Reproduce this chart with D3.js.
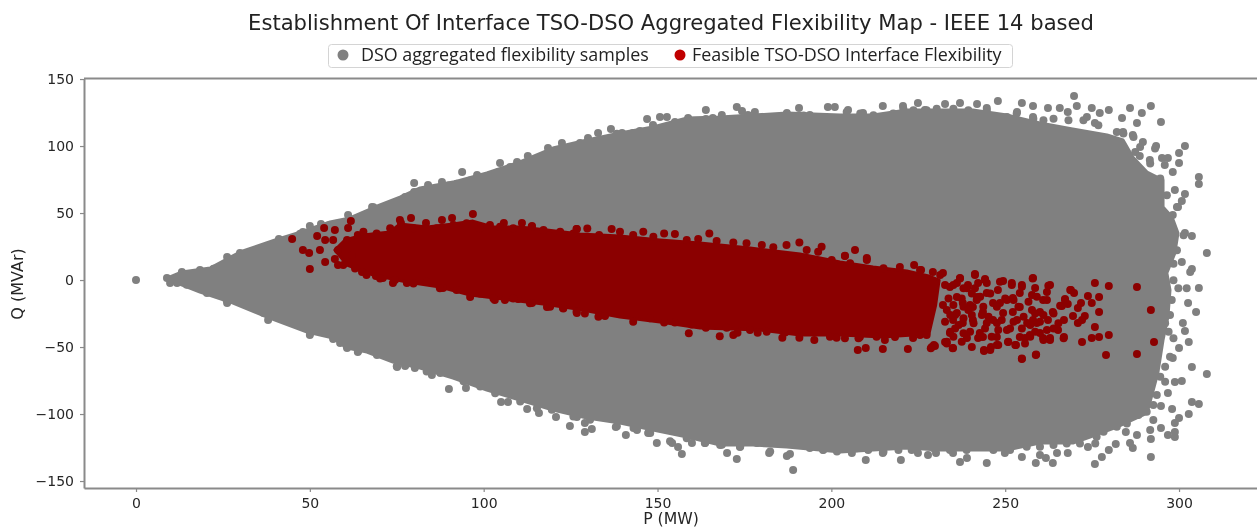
<!DOCTYPE html>
<html>
<head>
<meta charset="utf-8">
<script src="https://cdn.jsdelivr.net/npm/d3@7"></script>
<style>
html,body{margin:0;padding:0;background:#fff;overflow:hidden}
svg{display:block;filter:blur(0.4px)}
</style>
</head>
<body>
<div id="chart"></div>
<script>
const chartTitle = "Establishment Of Interface TSO-DSO Aggregated Flexibility Map - IEEE 14 based";
const seriesNames = ["DSO aggregated flexibility samples", "Feasible TSO-DSO Interface Flexibility"];
const xLabel = "P (MW)";
const yLabel = "Q (MVAr)";
const xTicks = [0, 50, 100, 150, 200, 250, 300];
const yTicks = [-150, -100, -50, 0, 50, 100, 150];

// Solid core of the grey sample cloud, [P, Q]
const greyCore = [[8.9,1.5],[13.2,6],[21.3,9],[29.9,20.9],[40,29.9],[47.2,35.8],[55.8,43.3],[61.5,46.3],[68.7,54.5],[75.9,61.9],[81.7,68.7],[91.2,73.1],[100.9,79.9],[110.4,88.1],[119.9,98.5],[129.7,104.5],[139.2,109.7],[148.7,114.2],[158.5,120.9],[168,121.6],[177.4,123.1],[187.2,124.6],[202.5,123.1],[212,123.1],[221.7,126.9],[231.2,126.9],[240.7,126.9],[250.5,123.1],[260,117.2],[269,113],[279.3,108.2],[283.9,104.5],[286.7,91.8],[290.8,80.6],[295.4,74.6],[295.4,54.5],[298,47],[299.7,35.1],[298.8,20.1],[296.5,5.2],[297.4,-7.5],[296.8,-27.6],[295.4,-44.8],[293.9,-69.4],[290.8,-99.3],[282.1,-109.7],[274.4,-117.2],[269.5,-121.6],[260,-121.6],[250.5,-126.9],[240.7,-126.9],[231.2,-126.9],[221.7,-125.4],[212,-126.9],[202.5,-128.4],[196.7,-126.9],[187.2,-124.6],[177.4,-123.1],[168,-123.1],[158.5,-117.2],[148.7,-111.9],[139.2,-106.7],[129.7,-103],[119.9,-97],[110.4,-89.6],[100.9,-82.1],[91.2,-73.1],[81.7,-65.7],[73.9,-61.2],[66.4,-53.7],[60.7,-50.7],[56.7,-43.3],[49.2,-38.8],[37.7,-27.6],[27.9,-17.2],[18.4,-9],[11.8,-2.2]];

// Individually visible grey samples outside the rim, [P, Q]
const greySamples = [[0,0],[9.8,-2.2],[11.8,-2.2],[8.9,1.5],[13.2,6],[18.4,7.5],[26.2,17.2],[29.9,20.1],[33.6,20.9],[41.1,30.6],[48,35.8],[50,40.3],[53.2,41.8],[61,48.5],[67.9,54.5],[77.4,61.9],[80,65.7],[80,72.4],
[84,70.9],[88,73.1],[93.8,80.6],[98.1,78.4],[104.7,87.3],[109.6,88.1],[112.7,92.5],[118.5,98.5],[122.5,102.2],[127.7,102.2],[130,106],[132.9,109.7],[136.6,112.7],[139.8,109.7],[142.9,109.7],[144.9,111.2],[147,120.2],[148.7,115.7],[150.7,121.6],[152.7,121.6],[155,117.9],[158.8,120.9],[163.9,126.9],[163.9,120.2],[165.9,120.9],[168.5,123.1],[172.8,129.1],[174.3,126.1],[178,125.4],[176,123.1],[181.8,121.6],[187.2,124.6],[190.7,128.4],[193.8,123.1],[199,129.1],[201,129.1],[204.8,126.9],[209.1,124.6],[214.8,129.9],[220.6,129.9],[224.9,132.1],[226.9,126.9],[232.7,131.3],[237,132.1],[241.9,131.3],[244.7,128.4],[247.9,133.6],[253.4,125.4],[254.8,132.1],[258,129.9],[258,121.6],[262.3,128.4],[265.7,128.4],[268,125.4],[269.8,137.3],[270.6,129.9],[273.5,121.6],[274.9,128.4],[275.8,117.2],[277.2,124.6],[279.8,126.9],[283.6,120.9],[285.9,128.4],[289.3,124.6],[291.9,129.9],[294.8,117.9],[287.9,117.2],[283.9,110.5],[286.7,108.2],[289.6,103],[288.7,92.5],[291.6,89.6],[293.4,100],[295.1,91],[296.8,91],[295.9,85.8],[298.2,80.6],[300,94.8],[300,87.3],[301.7,100],[305.7,76.9],[305.7,71.6],[298.8,67.2],[301.7,64.2],[300.8,59],[299.7,54.5],[298.2,48.5],[303.7,32.8],[301.7,35.1],[308,20.1],[300.8,13.4],[303.7,8.2],[305.7,-6],
[302.6,-17.2],[304.9,-23.9],[301.1,-32.1],[301.7,-38.1],[302.8,-46.3],[300,-50.7],[298.2,-58.2],[303.7,-64.9],[308,-70.2],[300.8,-75.4],[298.8,-76.1],[296.8,-84.3],[303.7,-91],[305.7,-92.5],[298,-96.3],[302.8,-100],[300,-103],[298.8,-106.7],[298.8,-113.4],[296.8,-115.7],[298.8,-117.2],[294.8,-110.5],[294.8,-94],[291.9,-132.1],[291.9,-118.7],[287.9,-115.7],[284.7,-113.4],[285.9,-121.6],[286.7,-125.4],[281.8,-122.4],[279.8,-126.9],[277.8,-132.1],[275.8,-137.3],[273.8,-124.6],[268,-129.1],[264.9,-129.1],[263.7,-136.6],[261.7,-132.8],[258.8,-136.6],[260,-130.6],[254.8,-132.1],[249.9,-129.1],[244.7,-136.6],[239,-132.8],[237,-135.8],[235,-129.1],[230.1,-129.1],[227.8,-130.6],[224.9,-129.1],[220,-134.3],[214.8,-129.1],[209.9,-134.3],[205.9,-129.1],
[197.6,-126.9],[193.8,-125.4],[189,-141.8],[188.1,-129.9],[187.2,-131.3],[182.1,-129.1],[173.7,-124.6],[172.8,-133.6],[170,-129.1],[168,-123.1],[163.6,-121.6],[159.9,-121.6],[157,-129.9],[155.9,-124.6],[154.2,-121.6],[149.8,-121.6],[147.3,-114.2],[144.1,-111.9],[140.9,-115.7],[138,-109.7],[131.1,-111.2],[129.1,-113.4],[129.1,-106.7],[126.8,-102.2],[124.8,-109],[120.8,-102.2],[115.9,-99.3],[112.5,-96.3],[107,-91],[105,-91],[94.9,-80.6],[90,-81.3],[85.1,-70.9],[80.2,-65.7],[77.4,-64.2],[75.1,-64.9],[69.3,-56],[63.8,-53.7],[60.7,-50.7],[58.7,-47],[56.7,-44],[50,-41],[38,-29.9],[26.2,-17.2]];

// Grey samples forming the bumpy rim of the cloud, [P, Q]
const greyRim = [[13.2,3.4],[18.4,5.9],[22.3,8.4],[29.9,18.4],[35.7,22.1],[40.5,25.8],[47.2,34.5],[55.4,40.7],[60.6,42],[64.5,47],[68.3,54.4],[74.1,55.7],[77,60.7],[80.8,64.4],
[82.7,66.9],[86,68.1],[89.9,70.6],[92.2,71.8],[96.1,74.3],[99.9,75.6],[102.3,76.8],[104.2,80.6],[107.6,84.3],[111.4,86.8],[115.3,86.8],[118.1,90.5],[121,91.8],[123.9,95.5],[126.8,99.2],[128.7,100.5],[131.6,99.2],[134.9,103],[138.3,109.2],[141.2,101.7],[144,107.9],[147.9,109.2],[151.2,110.4],[156.5,114.1],[160.3,117.9],[164.2,111.7],[169.9,115.4],[176.6,116.6],[181.4,117.9],[185.3,120.4],[192,122.8],[196.8,119.1],
[204.4,125.4],[208.3,124.2],[212.1,122.9],[217.8,124.2],[220.7,127.9],[223.6,126.7],[227.4,126.7],[230.3,127.9],[235.1,127.9],[239.4,126.7],[244.7,126.7],[250.5,121.7],[253.3,124.2],[258.1,120.4],[261,119.2],[263.9,120.4],[268.2,119.2],[272.5,119.2],[276.8,115.5],[282.1,110.5],[284,109.3],[286.9,106.8],[288.8,99.3],[287.4,95.6],[293.1,98.1],[291.7,86.9],[294.6,75.7],[296.5,63.2],[299.4,54.5],[301.3,33.4],[299.4,22.2],[298.4,12.2],[303.2,6],[298.4,-0.2],
[299.8,-6.2],[302.2,-6.2],[297.9,-14.9],[297.4,-26.1],[296,-32.3],[297,-38.6],[298.4,-43.5],[297.4,-57.2],[296,-64.7],[294.6,-72.2],[296,-75.9],[293.6,-85.8],[292.6,-93.3],[290.7,-98.3],[292.6,-104.5],[291.7,-112],[288.3,-100.8],[285,-107],[282.1,-109.5],[278.3,-113.2],[276.3,-116.9],[275.9,-121.9],[271.5,-121.9],[267.7,-121.9],[263.9,-123.2],[260,-124.4],[256.2,-124.4],[251.4,-126.9],[246.6,-126.9],[242.8,-123.2],[238.9,-126.9],[234.1,-126.9],[229.4,-125.6],[223.1,-126.9],[219.3,-126.9],[215,-128.1],[210.6,-126.9],[207.3,-125.6],
[201.6,-127.9],[197.7,-126.7],[193.9,-124.2],[190,-122.9],[182.4,-127.9],[178.6,-121.7],[173.8,-124.2],[168.5,-122.9],[163.7,-121.7],[158.4,-118],[153.6,-120.4],[147.9,-114.2],[143.1,-110.5],[138.3,-109.2],[130.6,-104.3],[125.8,-101.8],[119.6,-96.8],[115.3,-95.6],[110.5,-90.6],[103.3,-84.4],[99,-79.4],[94.2,-75.6],[87.5,-69.4],[83.6,-68.2],
[80.3,-64.4],[77.4,-63.2],[75,-64.4],[72.6,-55.7],[69.3,-55],[66.4,-49.5],[64,-52.5],[60.6,-49.5],[56.8,-43.3],[53,-37.1],[50.1,-39.6],[45.3,-32.1],[41.5,-28.4],[36.7,-24.6],[29.9,-15.9],[26.1,-15.2],[20.4,-9.7],[14.6,-3.5]];

// Solid core of the dark red feasible region, [P, Q]
const redCore = [[60.1,29.9],[65.3,33.6],[73,35.8],[75.9,41.8],[83.7,39.6],[91.2,41.8],[96.9,44],[102.7,39.6],[110.4,39.6],[118.2,37.3],[127.7,34.3],[139.2,32.8],[150.7,29.9],[162.2,27.6],[176.6,23.9],[191,19.4],[202.5,13.4],[212,9.7],[221.7,6.7],[228,3],[231,0],[230,-18.7],[228,-41],[223.5,-41],[214.8,-42.5],[202.5,-41],[191,-41],[179.5,-37.3],[162.2,-35.8],[150.7,-31.3],[139.2,-27.6],[126.8,-21.6],[117.1,-17.9],[105.5,-14.2],[96.1,-11.2],[87.4,-5.2],[77.9,-1.5],[68.2,3.7],[60.7,11.2],[57.2,22.4]];

// Individually visible feasible samples, [P, Q]
const redSamples = [[44.9,30.6],[48,22.4],[49.8,20.1],[52.9,22.4],[50,8.2],[52.1,32.8],[54.1,38.8],[54.4,29.9],[54.4,13.4],[57.2,37.3],[56.7,29.9],[60.7,29.9],[61.8,44],[61,38.8],[63.8,33.6],[58.1,22.4],[58.1,11.2],[57.2,15.7],[62.1,18.7],[65,6],[73.9,-2.2],[75.9,44.8],[79.1,46.3],[76.2,42.5],[83.4,42.5],[88,44.8],[90.9,46.3],[96.9,49.3],[96.1,-12.7],[88.3,-6],[77.9,-2.2],[71,1.5],[69,3],[103.2,-14.9],[106.1,-14.9],[109.9,-14.2],[113.9,-17.2],[118.2,-20.1],[122.8,-20.9],[126.8,-24.6],[101.8,41],[105.8,42.5],[111,42.5],[113.9,40.3],[126.8,38.1],
[206.8,22.4],[203.9,17.9],[210.2,16.4],[219.7,9.7],[223.8,11.2],[225.8,7.5],[229.2,6],[232.1,5.2],[237,1.5],[241.3,4.5],[244.2,0.7],[249.4,-0.7],[251.9,-2.2],[258,1.5],[254.8,-3.7],[262.9,-3.7],[262,-9],[268.9,-7.5],[269.8,-9.7],[275.8,-2.2],[279.8,-4.5],[287.9,-5.2],[273.8,-11.9],[277,-12.7],[267.2,-14.2],[266.3,-19.4],[268,-17.9],[271.8,-17.2],[274.9,-17.2],[270.9,-20.9],[277,-23.9],[272.9,-26.9],[272.1,-29.9],[270.9,-32.1],[266.9,-29.9],[269.5,-26.9],[263.7,-23.9],[260,-23.9],[257.7,-22.4],[262.3,-29.9],[257.7,-11.2],[258.6,-6],[260.9,-14.9],[252.2,-23.9],[243.6,-23.9],[248.5,-17.2],[239.9,-18.7],[244.7,-9.7],[236.1,-12.7],[232.1,-18.7],[240.7,-29.9],[247.6,-32.1],[253.4,-29.9],[259.1,-32.1],[262,-37.3],[265.2,-37.3],[275.8,-35.1],[279.8,-41],[277,-42.5],[274.9,-43.3],[272.1,-46.3],[266.9,-42.5],[262.9,-43.3],[260.9,-43.3],[257.1,-41],[255.7,-43.3],[253.1,-48.5],[250.8,-46.3],[247.6,-48.5],[243.9,-52.2],[245.9,-50],[242.2,-43.3],[239,-43.3],[235,-50.7],[232.7,-46.3],[229.5,-48.5],[228.9,-50],[222,-51.5],[214.8,-51.5],[209.9,-50.7],[207.6,-52.2],[254.8,-59],[258.8,-56],[279,-56],[287.9,-55.2],[291.9,-22.4],[292.8,-46.3],
[236.1,-24.6],[237.8,-32.1],[242.7,-39.6],[244.7,-32.1],[250.5,-37.3],[250.5,-14.9],[254.2,-20.1],[246.5,-17.2],[241.9,-12.7],[256.3,-32.1],[258,-29.9],[260,-39.6],[254.2,-42.5],[247.6,-42.5],[240.4,-50],[234.1,-39.6],[244.7,-2.2],[254.2,-9.7],[247.9,-7.5],[252.2,-13.4],[239.3,-3.7],[236.1,-2.2],[234.1,-5.2],[242.2,-2.2],[237.8,-17.2],[235,-29.9],[240.7,-20.1],[243.6,-42.5],[249.4,-24.6],[246.5,-29.9],[208.2,-42.5],[215.4,-44.8],[218.3,-42.5],[223.5,-43.3],[225.5,-41]];

// Feasible samples forming the rim and the sparse right end, [P, Q]
const redRim = [[65.4,36],[69.2,34.8],[73.1,38.6],[79.8,38.6],[86.5,38.6],[91.3,41],[95.1,42.3],[98.9,38.6],[104.7,39.8],[108.5,38.6],[113.8,39.8],[117.2,37.3],[122,36],[125.8,34.8],
[59.6,11.2],[63,8.7],[66.3,3.7],[70.2,1.2],[74.5,0],[79.8,-2.5],[83.6,-1.3],[87.4,-6.2],[92.2,-7.5],[98.9,-10],[102.8,-13.7],[108.5,-13.7],[113.3,-17.4],[119.1,-19.9],[122.9,-21.2],
[126.7,38],[129.8,38.5],[133.2,33.6],[136.8,38],[139.2,36.1],[143,33.6],[145.9,36.1],[148.8,32.3],[151.9,34.8],[155,34.3],[158.4,29.8],[161.7,30.6],[164.9,34.8],[167,29.1],[171.8,28.1],[175.6,27.4],[180,26.1],[183.3,24.4],[187.1,26.1],[190.8,28.1],[192.9,22.4],[197.2,24.9],[196.2,21.1],[200.1,14.9],[203.9,18.1],[205.4,12.5],[210.2,15],[215,8.8],[225.5,7.5],
[126.7,-23.7],[129.1,-24.9],[133,-27.4],[134.9,-26.9],[143,-31.1],[147.8,-28.6],[151.9,-31.6],[155,-31.6],[159.8,-33.1],[159,-39.8],[163.9,-35.6],[167.9,-42],[169.9,-35.6],[171.8,-41],[173,-39.3],[176.6,-37.3],[178.8,-39.3],[181.4,-38.6],[185.9,-43.1],[186.7,-39.1],[190.8,-43.1],[195.1,-44.8],[199.6,-42.3],[201.5,-43.1],[203.9,-43.5],[207.8,-43.5],[213,-42.3],[227.4,-41],[233.2,-46],
[237,1.2],[241.3,3.7],[244.2,0],[248.5,-1.2],[251.9,-3.7],[254.8,-5],[257.9,1.2],[262.4,-4.2],[262,-14.9],[268.7,-7.5],[265.8,-19.2],[267.2,-14.9],[259.1,-12.4],[256.7,-16.2],[252.4,-14.9],[253.8,-19.9],[250,-13.7],[245.7,-10],[241.8,-14.9],[239,-6.2],[238,-19.9],[235.1,-18.7],[240.4,-26.1],[245.2,-27.4],[249,-29.9],[252.4,-31.1],[255.3,-27.4],[258.6,-24.9],[261,-26.1],[263.9,-24.9],[260,-31.1],[265.3,-32.3],[263.9,-36.1],[266.8,-43.5],[262.9,-44.8],[261,-44.8],[257.2,-42.3],[255.7,-47.3],[252.9,-48.5],[250.9,-46],[248,-48.5],[245.7,-52.2],[243.9,-52.9],[246.1,-42.3],[242.8,-42.3],[239.9,-38.6],[237.5,-46],[234.9,-51],[233.2,-47.3],[229.8,-49.3],[228.6,-51],[254.8,-58.5],[258.9,-55.5],[236.6,-33.6],[240.9,-32.3],[244.2,-36.1],[248,-37.3],[251.4,-36.1],[254.8,-36.1],[257.2,-33.6],[258.6,-38.6],[234.2,-26.1],[234.2,-38.6],[247.6,-19.9],[243.7,-19.9],[241.3,-6.2],
[231.3,3.7],[232.7,-3.7],[233.7,-13.7],[233.2,-22.4],[232.7,-31.1],[235.1,-3.7],[237.5,-13.7],[235.6,-26.1],[238,-28.6],[239.4,-22.4],[238,-6.2],[240.4,-10],[242.8,-12.4],[243.3,-26.1],[235.6,-36.1],[238,-39.8],[235.1,-42.3]];

const width = 1257, height = 528;
const margin = {left: 84, top: 78.5, bottom: 488, right: 1259};
const axisColor = "#8a8a8a", textColor = "#262626";
const greyColor = "#808080", redColor = "#8b0000", legendRed = "#c00000";
const tickFont = "DejaVu Sans, sans-serif";
const dotR = 4;

const svg = d3.select("#chart").append("svg").attr("width", width).attr("height", height);
const x = d3.scaleLinear().domain([-14.96, 323]).range([margin.left, margin.right]);
const y = d3.scaleLinear().domain([-155.2, 150.4]).range([margin.bottom, margin.top]);
const line = d3.line().x(d => x(d[0])).y(d => y(d[1])).curve(d3.curveLinearClosed);

function drawCloud(core, dots, color) {
  svg.append("path").attr("d", line(core)).attr("fill", color)
    .attr("stroke", color).attr("stroke-width", 3).attr("stroke-linejoin", "round");
  svg.append("g").selectAll("circle").data(dots).join("circle")
    .attr("cx", d => x(d[0])).attr("cy", d => y(d[1])).attr("r", dotR).attr("fill", color);
}
drawCloud(greyCore, greySamples.concat(greyRim), greyColor);
drawCloud(redCore, redSamples.concat(redRim), redColor);

// axes
const gx = svg.append("g").attr("transform", `translate(0,${margin.bottom})`)
  .call(d3.axisBottom(x).tickValues(xTicks).tickSize(4).tickPadding(6).tickSizeOuter(0));
const gy = svg.append("g").attr("transform", `translate(${margin.left},0)`)
  .call(d3.axisLeft(y).tickValues(yTicks).tickSize(4).tickPadding(6).tickSizeOuter(0));
[gx, gy].forEach(g => {
  g.selectAll(".domain").attr("stroke", axisColor).attr("stroke-width", 2);
  g.selectAll(".tick line").attr("stroke", axisColor).attr("stroke-width", 1.2);
  g.selectAll("text").attr("fill", textColor).attr("font-family", tickFont).attr("font-size", 14);
});
svg.append("line").attr("x1", margin.left).attr("x2", margin.right)
  .attr("y1", margin.top).attr("y2", margin.top).attr("stroke", axisColor).attr("stroke-width", 2);

// title and axis labels
svg.append("text").attr("x", 671).attr("y", 30).attr("text-anchor", "middle")
  .attr("font-family", tickFont).attr("font-size", 21.1).attr("fill", "#222").text(chartTitle);
svg.append("text").attr("x", 671).attr("y", 524).attr("text-anchor", "middle")
  .attr("font-family", tickFont).attr("font-size", 15.7).attr("fill", textColor).text(xLabel);
svg.append("text").attr("transform", "translate(23,284) rotate(-90)").attr("text-anchor", "middle")
  .attr("font-family", tickFont).attr("font-size", 16).attr("fill", textColor).text(yLabel);

// legend
const legend = svg.append("g");
legend.append("rect").attr("x", 328.5).attr("y", 44.5).attr("width", 684).attr("height", 23).attr("rx", 3)
  .attr("fill", "#fff").attr("stroke", "#d4d4d4");
const legendItems = [
  {name: seriesNames[0], cx: 343, tx: 361, color: greyColor},
  {name: seriesNames[1], cx: 680, tx: 692, color: legendRed}
];
legendItems.forEach(d => {
  legend.append("circle").attr("cx", d.cx).attr("cy", 55).attr("r", 5.5).attr("fill", d.color);
  legend.append("text").attr("x", d.tx).attr("y", 61).attr("font-family", "Open Sans, sans-serif")
    .attr("font-size", 17.9).attr("fill", "#222").text(d.name);
});
</script>
</body>
</html>
